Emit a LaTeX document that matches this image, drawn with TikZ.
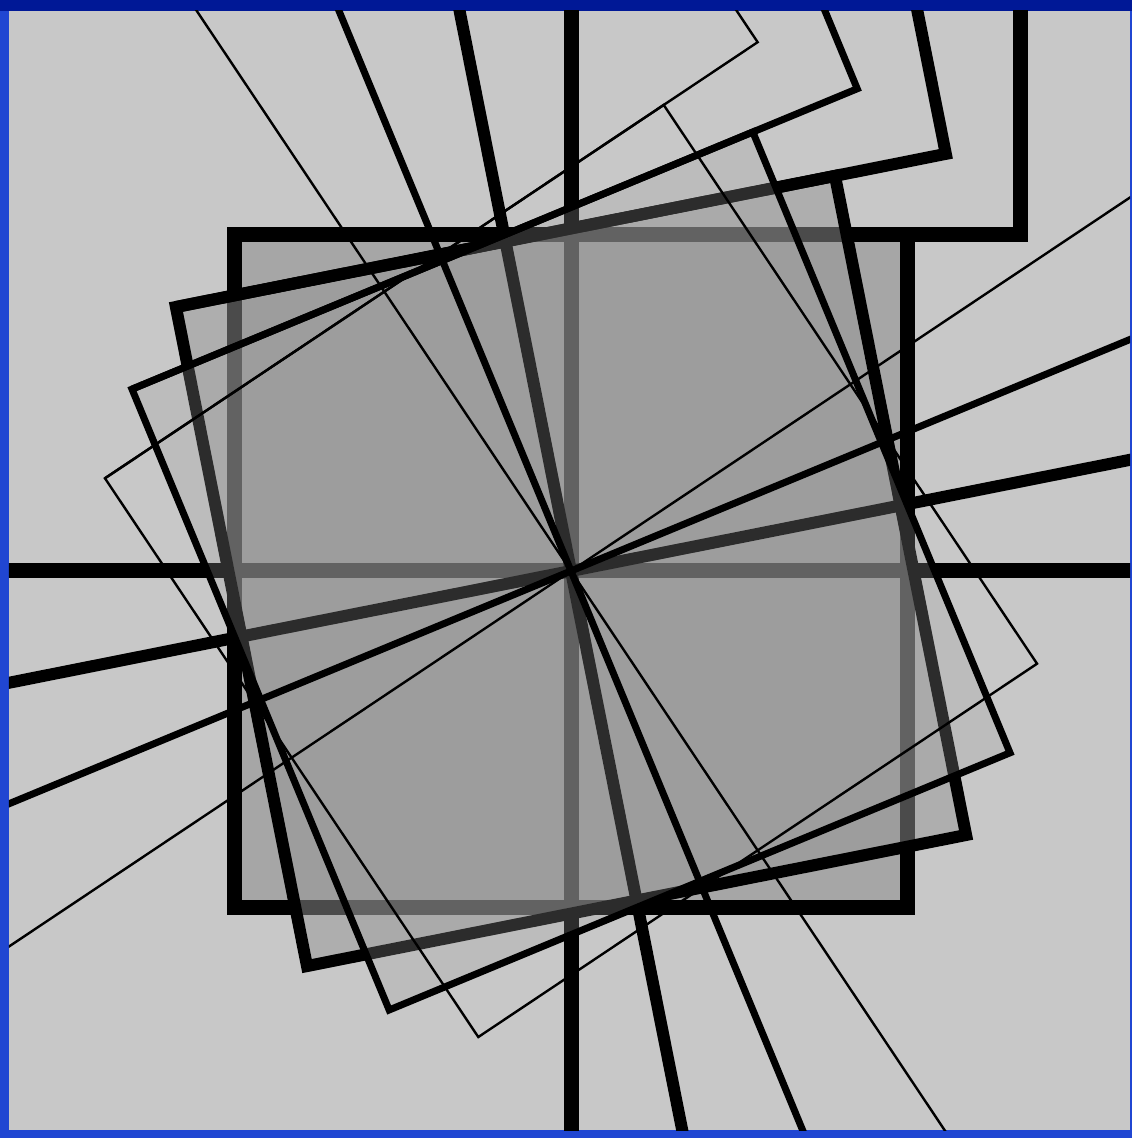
\documentclass[tikz,border=0pt]{standalone}
\usetikzlibrary{calc}
\definecolor{paper}{RGB}{200,200,200}
\definecolor{frameblue}{RGB}{32,70,210}
\definecolor{navy}{RGB}{0,24,150}
\definecolor{shade0}{RGB}{166,166,166}
\definecolor{shade1}{RGB}{150,150,150}
\definecolor{shade2}{RGB}{160,160,160}
\tikzset{
  % one turned coordinate frame: axes, square, corner bracket
  pics/turned frame/.style={code={
    \draw (-1300,0) -- (1300,0) (0,-1300) -- (0,1300);
    \draw (-336,-336) -- (336,-336) -- (336,336) -- (-336,336) -- cycle;
    \draw (-336,336) -- (449,336) -- (449,1300);
  }},
}
\begin{document}
\begin{tikzpicture}[x=0.5pt,y=0.5pt]
  \useasboundingbox (-571,-567) rectangle (561,571);
  \fill[frameblue] (-571,-567) rectangle (561,571);
  \fill[navy] (-571,560) rectangle (561,571);
  \fill[paper] (-562,-559) rectangle (559,560);
  \clip (-562,-559) rectangle (559,560);
  \foreach \ang/\lw/\tone/\op in {0/7.5pt/shade0/1, 11.25/6pt/shade1/0.5,
      22.5/3.5pt/shade2/0.28, 33.75/1.2pt/shade2/0}{
    \begin{scope}[rotate=\ang]
      \fill[\tone,fill opacity=\op] (-336,-336) rectangle (336,336);
      \pic[transform shape,line width=\lw] {turned frame};
    \end{scope}
  }
\end{tikzpicture}
\end{document}
